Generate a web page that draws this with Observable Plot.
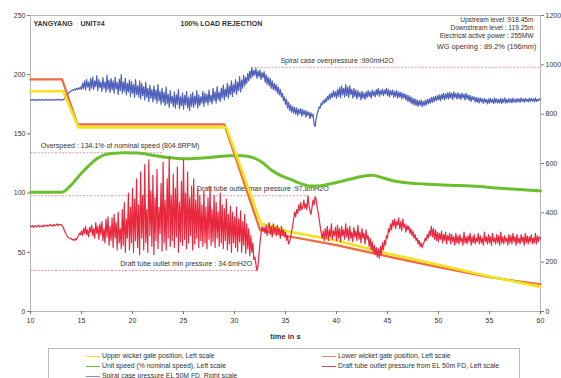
<!DOCTYPE html>
<html>
<head>
<meta charset="utf-8">
<script src="https://cdn.jsdelivr.net/npm/d3@7"></script>
<script src="https://cdn.jsdelivr.net/npm/@observablehq/plot@0.6"></script>
<style>
  body { margin: 0; background: #fff; }
  #chart { position: relative; width: 561px; height: 378px; overflow: hidden; font-family: "Liberation Sans", Arial, sans-serif; }
  #chart svg { position: absolute; left: 0; top: 0; }
  .legend { position: absolute; left: 48px; top: 348px; width: 472px; height: 40px; border: 1px solid #bbb; box-sizing: border-box; }
  .item { position: absolute; font-family: "Liberation Sans Narrow", "Liberation Sans", Arial, sans-serif; font-size: 6.8px; color: #333; white-space: nowrap; line-height: 8px; }
  .item i { position: absolute; top: 3.5px; width: 14px; height: 1.4px; }
  .item span { position: absolute; left: 16px; top: 0; }
</style>
</head>
<body>
<div id="chart"></div>
<script>
// ---- Measured traces, 100% load rejection test, Yangyang unit #4 ----

// Wicket gate positions (left scale)
const upperGateT = [10, 13.2, 14.7, 29.2, 32.6, 34, 35, 40, 45, 50, 55, 60];
const upperGateV = [186, 186, 155.5, 155.5, 74, 71.5, 68, 60, 49, 39.5, 29.5, 21];
const lowerGateT = [10, 13.1, 14.6, 29.0, 32.5, 35, 40, 45, 50, 55, 60];
const lowerGateV = [196, 196, 158, 158, 69, 64, 56, 46.5, 37.5, 29, 23];

// Unit speed, % of nominal (left scale)
const speedT = [10, 13.1, 14, 14.9, 15.7, 16.5, 17.3, 18.2, 19.2, 20.5, 22, 23.5, 25, 26.5, 28, 29.5, 30.8, 31.8, 32.8, 33.6,
  34.5, 35.5, 36.5, 37.5, 38.3, 39.5, 41, 42.5, 43.5, 44.5, 45.5, 46.6, 48, 50, 52, 54, 56, 58, 60];
const speedV = [100.8, 100.8, 107, 116, 123, 129, 132.5, 133.6, 134.1, 133.8, 132, 130, 129, 129.5, 130.5, 131.5, 131.5, 130, 125.5, 119.5,
  115, 111.5, 108, 106, 106, 108, 111, 114, 115, 113, 110.5, 109, 108, 107, 106.4, 105.5, 104, 103, 101.8];

// Sampled pressure records: one value every 0.1 s from t = 10 s (one row per second)
const sampleStart = 10;
const sampleStep = 0.1;

// Draft tube outlet pressure from EL 50m FD, mH2O (left scale)
const draftPressure = [
  72, 71.5, 72.5, 71, 72, 72.5, 71.5, 72, 73, 71.5,
  72, 72.5, 71.5, 73, 72, 72.5, 73, 72, 72.5, 73.5,
  72.5, 73, 72, 73.5, 72.5, 73, 74, 72.5, 73.5, 73,
  73.5, 72.5, 71, 69, 67, 65, 63.5, 62.5, 62, 61.5,
  61.5, 60.5, 61, 60, 61.5, 60.5, 62.5, 64, 66, 65,
  68, 64, 70, 66, 72, 65, 69, 63, 71, 67,
  73, 64, 70, 62, 75, 66, 72, 61, 74, 65,
  76, 60, 70, 58, 78, 63, 80, 56, 72, 60,
  79, 54, 82, 62, 75, 52, 84, 58, 70, 53,
  86, 56, 92, 50, 78, 62, 100, 52, 88, 58,
  104, 50, 95, 60, 112, 54, 90, 48, 118, 62,
  98, 52, 124, 58, 86, 50, 128, 64, 102, 55,
  115, 48, 96, 60, 120, 53, 88, 66, 108, 51,
  126, 58, 94, 52, 112, 62, 130, 55, 98, 60,
  116, 54, 104, 63, 122, 50, 92, 59, 110, 56,
  128, 61, 100, 53, 118, 58, 96, 64, 106, 52,
  112, 57, 94, 62, 104, 54, 98, 60, 90, 55,
  102, 58, 88, 53, 96, 61, 105, 56, 86, 59,
  98, 54, 92, 62, 84, 55, 100, 58, 90, 53,
  87, 60, 95, 52, 82, 57, 89, 50, 84, 58,
  80, 54, 88, 51, 78, 59, 85, 50, 76, 56,
  82, 49, 74, 53, 70, 47, 64, 50, 58, 44,
  46, 40, 34.6, 38, 48, 58, 66, 72, 68, 71,
  66, 73, 64, 70, 75, 65, 72, 63, 74, 67,
  71, 64, 73, 66, 70, 62, 72, 65, 69, 63,
  67, 60, 64, 57, 59, 62, 68, 72, 78, 84,
  80, 86, 83, 90, 85, 92, 86, 88, 94, 87,
  91, 86, 97.8, 90, 85, 82, 88, 94, 90, 97,
  95, 88, 84, 78, 72, 66, 62, 68, 60, 70,
  62, 72, 60, 69, 63, 74, 61, 68, 64, 71,
  60, 73, 62, 70, 59, 72, 64, 69, 61, 74,
  63, 70, 60, 72, 62, 67, 59, 71, 63, 68,
  60, 73, 61, 67, 58, 70, 62, 66, 57, 69,
  61, 64, 55, 62, 52, 59, 50, 56, 48, 54,
  46, 53, 45, 55, 48, 58, 52, 60, 56, 64,
  62, 70, 67, 74, 69, 77, 72, 78, 70, 76,
  73, 79, 70, 76, 68, 78, 71, 74, 67, 73,
  69, 72, 66, 70, 64, 68, 62, 65, 60, 62,
  57, 60, 55, 58, 54, 57, 59, 62, 60, 65,
  62, 68, 64, 72, 63, 70, 61, 69, 60, 67,
  59, 66, 61, 68, 58, 65, 60, 67, 57, 64,
  60, 66, 57, 65, 59, 63, 56, 66, 58, 64,
  57, 65, 59, 62, 56, 67, 58, 63, 57, 64,
  59, 66, 56, 63, 58, 65, 57, 62, 59, 66,
  57, 64, 58, 62, 56, 67, 59, 63, 57, 65,
  58, 63, 56, 66, 59, 62, 57, 65, 58, 64,
  56, 67, 58, 63, 57, 64, 59, 62, 56, 65,
  58, 64, 57, 66, 59, 63, 56, 65, 58, 62,
  57, 65, 59, 63, 56, 66, 58, 64, 57, 63,
  59, 65, 57, 62, 58, 66, 57, 64, 59, 63,
  61.5
];

// Spiral case pressure EL 50M FD, mH2O (right scale)
const spiralPressure = [
  858, 857, 859, 858, 856, 858, 859, 857, 858, 859,
  857, 858, 859, 857, 858, 860, 858, 857, 859, 858,
  858, 857, 859, 858, 857, 859, 858, 860, 857, 858,
  859, 858, 858, 862, 868, 872, 878, 884, 888, 892,
  894, 898, 896, 902, 898, 904, 900, 906, 902, 910,
  900, 925, 905, 935, 898, 940, 910, 930, 895, 945,
  905, 950, 900, 935, 912, 955, 895, 940, 908, 930,
  892, 948, 905, 930, 890, 958, 900, 938, 888, 945,
  898, 935, 885, 950, 902, 928, 880, 942, 895, 960,
  885, 930, 892, 945, 878, 925, 890, 938, 872, 932,
  885, 920, 868, 940, 880, 915, 870, 935, 862, 925,
  875, 912, 858, 930, 868, 905, 852, 918, 865, 900,
  850, 915, 860, 898, 845, 920, 855, 892, 840, 905,
  848, 888, 835, 910, 842, 880, 828, 895, 845, 872,
  832, 890, 825, 878, 840, 900, 822, 870, 835, 885,
  820, 875, 838, 892, 826, 868, 815, 880, 832, 888,
  828, 872, 840, 895, 825, 878, 835, 870, 845, 892,
  832, 885, 848, 880, 838, 898, 850, 876, 842, 905,
  855, 890, 845, 912, 860, 888, 852, 905, 866, 918,
  858, 902, 872, 925, 865, 915, 880, 935, 872, 920,
  888, 940, 880, 930, 895, 952, 890, 938, 905, 958,
  915, 948, 925, 965, 935, 975, 945, 990, 952, 978,
  958, 985, 945, 975, 952, 980, 940, 968, 948, 972,
  930, 960, 922, 950, 915, 945, 905, 935, 900, 925,
  895, 920, 885, 910, 878, 900, 870, 885, 855, 870,
  840, 860, 825, 848, 815, 838, 808, 832, 805, 828,
  800, 825, 795, 820, 802, 822, 792, 818, 798, 815,
  788, 812, 795, 808, 782, 805, 790, 800, 760, 750,
  780, 800, 815, 830, 825, 845, 838, 855, 845, 862,
  850, 872, 858, 880, 862, 885, 868, 895, 872, 890,
  865, 900, 872, 908, 868, 915, 878, 905, 870, 920,
  875, 910, 868, 915, 880, 900, 865, 905, 872, 898,
  862, 895, 870, 888, 858, 892, 865, 885, 860, 890,
  868, 895, 872, 890, 865, 898, 875, 892, 870, 900,
  878, 905, 872, 895, 880, 902, 875, 898, 882, 905,
  875, 900, 870, 895, 878, 898, 868, 892, 872, 895,
  865, 890, 870, 888, 862, 885, 866, 882, 858, 878,
  852, 875, 848, 870, 842, 865, 838, 862, 835, 858,
  832, 855, 836, 858, 830, 852, 835, 856, 838, 860,
  842, 862, 845, 868, 848, 870, 852, 872, 855, 875,
  858, 878, 855, 880, 862, 884, 858, 882, 864, 886,
  862, 888, 866, 885, 860, 890, 868, 884, 862, 886,
  864, 882, 860, 885, 866, 880, 858, 884, 862, 878,
  856, 876, 852, 872, 858, 870, 850, 868, 848, 866,
  846, 866, 850, 862, 844, 864, 848, 860, 842, 862,
  845, 864, 848, 860, 843, 866, 847, 862, 845, 860,
  846, 864, 844, 862, 848, 866, 845, 860, 847, 863,
  848, 862, 846, 865, 849, 860, 847, 864, 850, 862,
  848, 866, 851, 862, 849, 864, 852, 860, 850, 865,
  851, 864, 853, 862, 850, 866, 852, 860, 854, 862,
  858
];

// Axes
const leftTicks = [0, 50, 100, 150, 200, 250];
const rightTicks = [0, 200, 400, 600, 800, 1000, 1200];
const timeTicks = [10, 15, 20, 25, 30, 35, 40, 45, 50, 55, 60];
const rightPerLeft = 1200 / 250; // right scale spans 0–1200 over the same height as 0–250

// Limit lines with their labels
const limitLabels = ["Spiral case overpressure :990mH2O", "Overspeed : 134.1% of nominal speed (804.6RPM)",
  "Draft tube outlet max pressure :97.8mH2O", "Draft tube outlet min pressure : 34.6mH2O"];
const limitValues = [990 / rightPerLeft, 134.1, 97.8, 34.6];
const limitFrom = [31.9, 10, 10, 10];
const limitTo = [60, 23, 37.2, 32.3];
const limitLabelAt = [34.5, 11, 26.3, 18.8];

const headerLeft = "YANGYANG    UNIT#4";
const headerCenter = "100% LOAD REJECTION";
const testConditions = ["Upstream level :918.45m", "Downstream level : 119.25m", "Electrical active power : 255MW"];
const wgOpening = "WG opening : 89.2% (196mm)";

// Series styling and legend
const colors = {upper: "#f3e21c", lower: "#ef6a3e", speed: "#6cbf2c", draft: "#e8283f", spiral: "#5262bb"};
const legendEntries = [
  {text: "Upper wicket gate position, Left scale", color: "#f3e21c", col: 0, row: 0},
  {text: "Unit speed  (% nominal speed), Left scale", color: "#6cbf2c", col: 0, row: 1},
  {text: "Spiral case pressure EL 50M FD, Right scale", color: "#7d8fd0", col: 0, row: 2},
  {text: "Lower wicket gate position, Left scale", color: "#f08070", col: 1, row: 0},
  {text: "Draft tube outlet pressure from EL 50m FD, Left scale", color: "#e04060", col: 1, row: 1}
];

// ---- Build tables ----
const zipT = (ts, vs) => ts.map((t, i) => ({t, v: vs[i]}));
const upper = zipT(upperGateT, upperGateV);
const lower = zipT(lowerGateT, lowerGateV);
const speed = zipT(speedT, speedV);
const draft = draftPressure.map((v, i) => ({t: sampleStart + i * sampleStep, v}));
const spiral = spiralPressure.map((p, i) => ({t: sampleStart + i * sampleStep, p}));
const limits = limitLabels.map((label, i) => ({label, v: limitValues[i], from: limitFrom[i], to: limitTo[i], at: limitLabelAt[i]}));

const font = "Liberation Sans, Arial, sans-serif";
const narrow = "Liberation Sans Narrow, Liberation Sans, Arial, sans-serif";

const chart = Plot.plot({
  width: 561,
  height: 345,
  marginTop: 15,
  marginBottom: 34,
  marginLeft: 30,
  marginRight: 21,
  style: {fontFamily: font, fontSize: "7px", color: "#333", background: "transparent"},
  x: {domain: [10, 60]},
  y: {domain: [0, 250]},
  marks: [
    Plot.frame({stroke: "#b4b4b4", strokeWidth: 1}),
    Plot.axisY(leftTicks, {anchor: "left", tickSize: 3, tickPadding: 2, label: null, fontSize: 7, stroke: "#777"}),
    Plot.axisY(rightTicks.map(v => v / rightPerLeft), {anchor: "right", tickSize: 3, tickPadding: 2, label: null, fontSize: 7, stroke: "#777",
      tickFormat: d => String(Math.round(d * rightPerLeft))}),
    Plot.axisX(timeTicks, {anchor: "bottom", tickSize: 3, tickPadding: 4, fontSize: 7, stroke: "#777",
      label: "time in s", labelAnchor: "center", labelArrow: "none", labelOffset: 27}),
    // limit lines
    Plot.link(limits, {x1: "from", x2: "to", y1: "v", y2: "v", stroke: "#e67a8a", strokeWidth: 0.8, strokeDasharray: "2,1.5"}),
    Plot.text(limits, {x: "at", y: "v", text: "label", textAnchor: "start", dy: -7, fontSize: 7, fill: "#333", fontFamily: narrow}),
    // traces
    Plot.line(speed, {x: "t", y: "v", stroke: colors.speed, strokeWidth: 3, curve: "monotone-x"}),
    Plot.line(spiral, {x: "t", y: d => d.p / rightPerLeft, stroke: colors.spiral, strokeWidth: 1.25}),
    Plot.line(lower, {x: "t", y: "v", stroke: colors.lower, strokeWidth: 2.2}),
    Plot.line(upper, {x: "t", y: "v", stroke: colors.upper, strokeWidth: 2.6}),
    Plot.line(draft, {x: "t", y: "v", stroke: colors.draft, strokeWidth: 1.2}),
    // headings
    Plot.text([headerLeft], {frameAnchor: "top-left", dx: 3, dy: 6, fontWeight: "bold", fontSize: 7, fill: "#333"}),
    Plot.text([headerCenter], {frameAnchor: "top-left", dx: 150, dy: 6, fontWeight: "bold", fontSize: 7, fill: "#333"}),
    ...testConditions.map((line, i) => Plot.text([line], {frameAnchor: "top-right", dx: -7, dy: 1.5 + i * 8.3, fontSize: 6.6, fill: "#333", fontFamily: narrow})),
    Plot.text([wgOpening], {frameAnchor: "top-right", dx: -4, dy: 28, fontSize: 7.4, fill: "#333", fontFamily: narrow})
  ]
});

// bold x label
chart.querySelectorAll("[aria-label='x-axis label'] text").forEach(t => { t.setAttribute("font-weight", "bold"); t.setAttribute("font-size", "7.5"); });

const root = document.getElementById("chart");
root.appendChild(chart);

const legend = document.createElement("div");
legend.className = "legend";
root.appendChild(legend);
for (const e of legendEntries) {
  const it = document.createElement("div");
  it.className = "item";
  it.style.left = (e.col === 0 ? 86 : 322) + "px";
  it.style.top = (352 + e.row * 10) + "px";
  const sw = document.createElement("i");
  sw.style.background = e.color;
  const tx = document.createElement("span");
  tx.textContent = e.text;
  it.appendChild(sw);
  it.appendChild(tx);
  root.appendChild(it);
}
</script>
</body>
</html>
